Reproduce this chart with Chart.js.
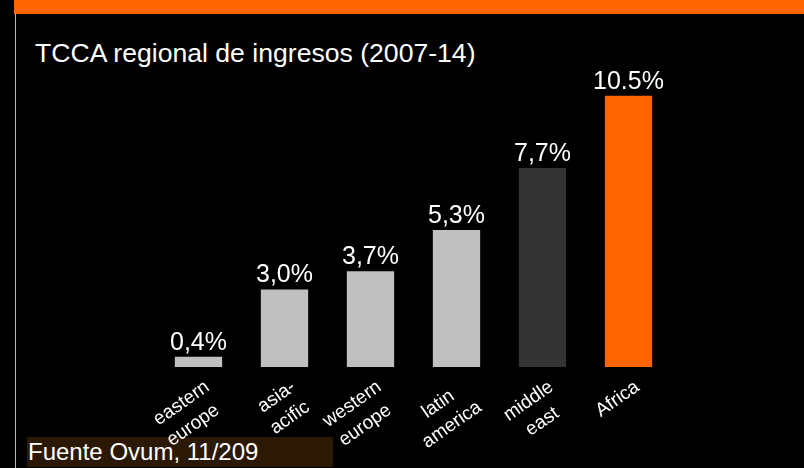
<!DOCTYPE html>
<html>
<head>
<meta charset="utf-8">
<script src="https://cdn.jsdelivr.net/npm/chart.js@4/dist/chart.umd.min.js"></script>
<style>
  html, body { margin: 0; padding: 0; background: #000; }
  #page { position: relative; width: 804px; height: 468px; overflow: hidden; background: #000;
          font-family: "Liberation Sans", Arial, sans-serif; color: #fff; }
  #band { position: absolute; left: 14px; top: 0; width: 790px; height: 14px; background: #ff6600; }
  #rule { position: absolute; left: 15px; top: 14px; width: 1px; height: 454px; background: #b8b8b8; }
  #title { position: absolute; left: 35px; top: 40px; font-size: 26.6px; line-height: 26px; white-space: nowrap; }
  #source { position: absolute; left: 27px; top: 437px; width: 306px; height: 30px; background: #2b1906;
            font-size: 24px; line-height: 30px; padding-left: 1px; box-sizing: border-box; white-space: nowrap; }
  #chart { position: absolute; left: 0; top: 0; }
</style>
</head>
<body>
<div id="page">
  <div id="band"></div>
  <div id="rule"></div>
  <div id="title">TCCA regional de ingresos (2007-14)</div>
  <div id="source">Fuente Ovum, 11/209</div>
  <canvas id="chart" width="804" height="468"></canvas>
</div>
<script>
// data
var regions = [['eastern', 'europe'], ['asia-', 'acific'], ['western', 'europe'], ['latin', 'america'], ['middle', 'east'], ['Africa']];
var growth = [0.4, 3.0, 3.7, 5.3, 7.7, 10.5];
var growthLabels = ['0,4%', '3,0%', '3,7%', '5,3%', '7,7%', '10.5%'];

var barColors = ['#c0c0c0', '#c0c0c0', '#c0c0c0', '#c0c0c0', '#333333', '#ff6600'];
var fontFamily = '"Liberation Sans", Arial, sans-serif';
var tickSize = 19;

// pad shorter lines with spaces so right-aligned rotated lines look centred
var measureCtx = document.createElement('canvas').getContext('2d');
measureCtx.font = tickSize + 'px ' + fontFamily;
function centreLines(lines) {
    if (!Array.isArray(lines) || lines.length < 2) return lines;
    var widest = Math.max.apply(null, lines.map(function (l) { return measureCtx.measureText(l).width; }));
    return lines.map(function (l) {
        var out = l;
        var target = (widest - measureCtx.measureText(l).width) / 2;
        while (measureCtx.measureText(out).width - measureCtx.measureText(l).width < target - 2) out += ' ';
        return out;
    });
}

var valueLabels = {
    id: 'valueLabels',
    afterDatasetsDraw: function (chart) {
        var ctx = chart.ctx;
        var meta = chart.getDatasetMeta(0);
        ctx.save();
        ctx.fillStyle = '#ffffff';
        ctx.font = '25px ' + fontFamily;
        ctx.textAlign = 'center';
        ctx.textBaseline = 'alphabetic';
        meta.data.forEach(function (bar, i) {
            ctx.fillText(growthLabels[i], bar.x, bar.y - 7);
        });
        ctx.restore();
    }
};

new Chart(document.getElementById('chart'), {
    type: 'bar',
    data: {
        labels: regions,
        datasets: [{
            data: growth,
            backgroundColor: barColors,
            borderWidth: 0,
            categoryPercentage: 1,
            barPercentage: 0.55
        }]
    },
    options: {
        responsive: false,
        animation: false,
        devicePixelRatio: 1,
        layout: { padding: { left: 155.5, right: 132.5, top: 0, bottom: 0 } },
        plugins: {
            legend: { display: false },
            tooltip: { enabled: false }
        },
        scales: {
            x: {
                grid: { display: false },
                border: { display: false },
                afterFit: function (scale) { scale.height = 101; },
                ticks: {
                    color: '#ffffff',
                    autoSkip: false,
                    minRotation: 35,
                    maxRotation: 35,
                    padding: 0,
                    labelOffset: 9,
                    font: { family: fontFamily, size: tickSize, lineHeight: 1.3 },
                    callback: function (value) {
                        return centreLines(this.getLabelForValue(value));
                    }
                }
            },
            y: {
                display: false,
                min: 0,
                max: 14.2
            }
        }
    },
    plugins: [valueLabels]
});
</script>
</body>
</html>
